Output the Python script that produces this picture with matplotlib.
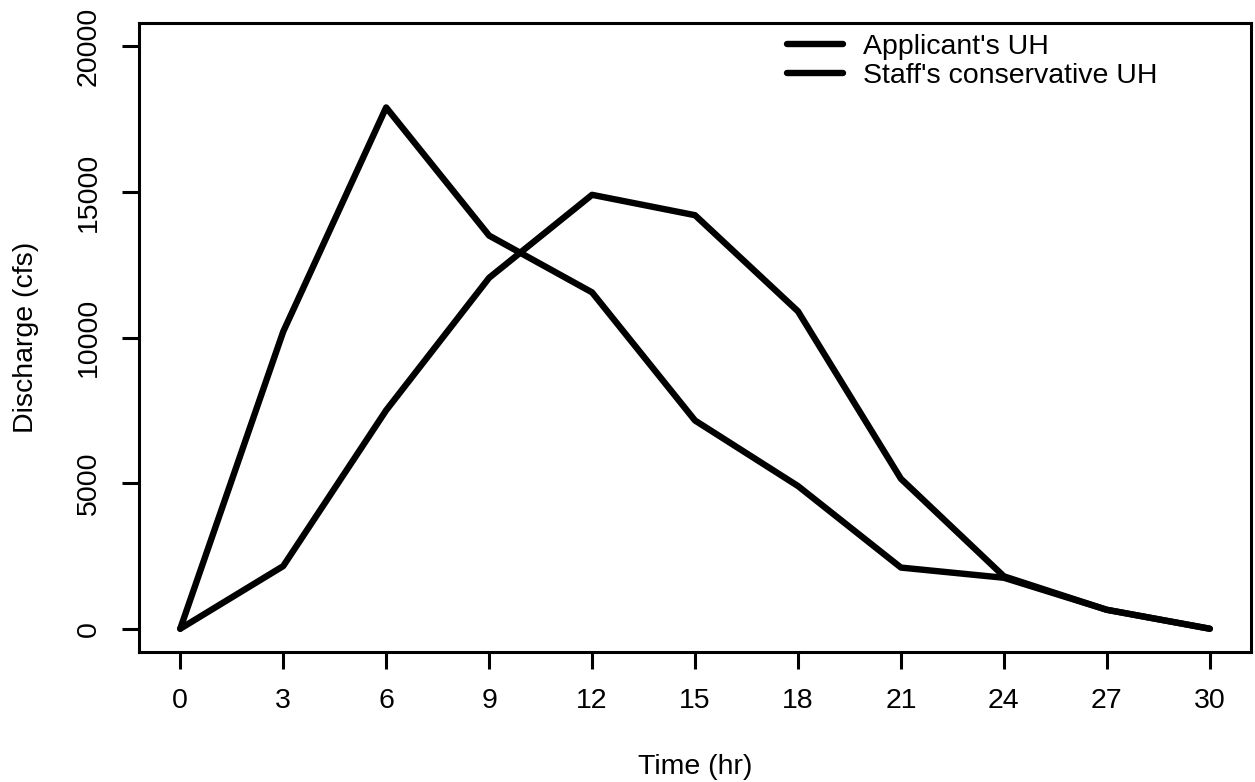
import numpy as np
from matplotlib import pyplot as plt

plt.rcParams["font.family"] = ["Liberation Sans", "DejaVu Sans"]

# unit hydrograph ordinates
time_hr = [0, 3, 6, 9, 12, 15, 18, 21, 24, 27, 30]
applicant_uh = [0, 2150, 7500, 12050, 14900, 14200, 10900, 5150, 1800, 650, 0]
staff_uh = [0, 10200, 17900, 13500, 11550, 7150, 4900, 2100, 1750, 650, 0]
x_ticks = list(range(0, 31, 3))
y_ticks = [0, 5000, 10000, 15000, 20000]

fig = plt.figure(figsize=(12.55, 7.82), dpi=100)
ax = fig.add_axes([0.1108, 0.1662, 0.8860, 0.8044])

ax.plot(time_hr, applicant_uh, color="black", lw=4.6, solid_joinstyle="round",
        solid_capstyle="round", label="Applicant's UH")
ax.plot(time_hr, staff_uh, color="black", lw=4.6, solid_joinstyle="round",
        solid_capstyle="round", label="Staff's conservative UH")

ax.set_xlim(-1.2, 31.2)
ax.set_ylim(-800, 20800)
ax.set_xticks(x_ticks)
ax.set_yticks(y_ticks)

for s in ax.spines.values():
    s.set_linewidth(2.2)

ax.tick_params(direction="out", length=12, width=2.2, labelsize=20.5)
ax.tick_params(axis="x", pad=14)
ax.tick_params(axis="y", pad=15, labelrotation=90)
for lab in ax.get_yticklabels():
    lab.set_va("center")

ax.set_xlabel("Time (hr)", fontsize=20.5)
ax.set_ylabel("Discharge (cfs)", fontsize=20.5)
ax.xaxis.set_label_coords(0.5, -0.162)
ax.yaxis.set_label_coords(-0.09, 0.5)

ax.legend(loc="upper left", bbox_to_anchor=(0.583, 0.982), frameon=False,
          fontsize=20.5, handlelength=1.95, handletextpad=0.7, labelspacing=0.1,
          borderpad=0, borderaxespad=0)

fig.savefig("out.png", dpi=100)
